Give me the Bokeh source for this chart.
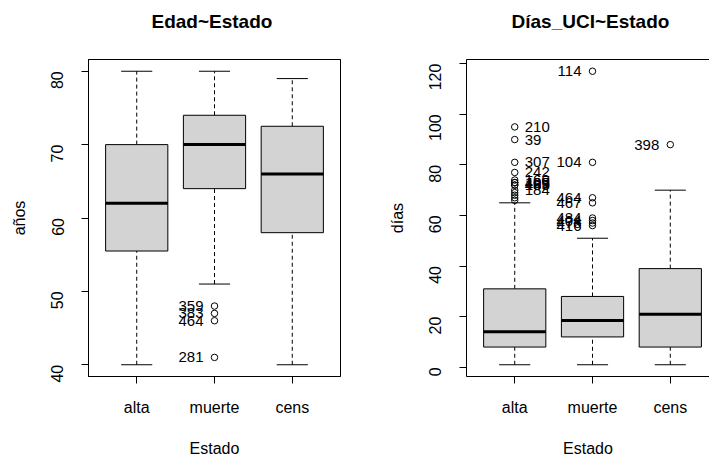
import math
from bokeh.plotting import figure
from bokeh.models import Range1d, FixedTicker, ColumnDataSource, Title, LinearAxis
from bokeh.layouts import row
from bokeh.embed import file_html
from bokeh.resources import INLINE
from bokeh.core.properties import value

categories = ["alta", "muerte", "cens"]
positions = [1, 2, 3]

# Edad ~ Estado
edad_low = [40, 51, 40]
edad_q1 = [55.5, 64, 58]
edad_med = [62, 70, 66]
edad_q3 = [70, 74, 72.5]
edad_high = [80, 80, 79]
edad_out_group = [2, 2, 2, 2]
edad_out_value = [48, 47, 46, 41]
edad_out_label = ["359", "383", "464", "281"]
edad_ticks = [40, 50, 60, 70, 80]

# Días_UCI ~ Estado
dias_low = [1, 1, 1]
dias_q1 = [8, 12, 8]
dias_med = [14, 18.5, 21]
dias_q3 = [31, 28, 39]
dias_high = [65, 51, 70]
dias_out_group = [1] * 14 + [2] * 8 + [3]
dias_out_value = [95, 90, 81, 77, 74, 73, 73, 72, 72, 70, 69, 68, 67, 66,
                  117, 81, 67, 65, 59, 58, 57, 56,
                  88]
dias_out_label = ["210", "39", "307", "242", "160", "165", "409", "469", "185", "184", "", "", "", "",
                  "114", "104", "464", "467", "484", "404", "478", "416",
                  "398"]
dias_ticks = [0, 20, 40, 60, 80, 100, 120]

FONT = "Liberation Sans"
HEIGHT = 459


def make_fig(title, ylabel, low, q1, med, q3, high, out_g, out_v, out_l, side,
             yticks, y_start, y_end, width, x_end, mb_left, mb_right, full_outline, title_offset):
    p = figure(width=width, height=HEIGHT, x_range=Range1d(0.38, x_end),
               y_range=Range1d(y_start, y_end), output_backend="svg",
               toolbar_location=None, min_border_left=mb_left, min_border_right=mb_right,
               min_border_top=59, min_border_bottom=81)
    p.grid.visible = False
    p.background_fill_color = "white"
    p.border_fill_color = "white"
    if full_outline:
        p.outline_line_color = "black"
        p.outline_line_width = 1
    else:
        p.outline_line_color = None

    xa = p.below[0]
    ya = p.left[0]

    # top frame edge, also the spacer between the frame and the title
    top_axis = LinearAxis(ticker=FixedTicker(ticks=positions), major_tick_out=22, major_tick_in=0,
                          axis_line_color="black", major_tick_line_color=None,
                          minor_tick_line_color=None, major_label_text_font_size="0px",
                          major_label_text_color=None)
    p.add_layout(top_axis, "above")
    p.add_layout(Title(text=title, text_font=FONT, text_font_size="19px",
                       text_font_style="bold", align="left", offset=title_offset,
                       standoff=12, text_color="black"), "above")

    src = ColumnDataSource(dict(x=positions, low=low, q1=q1, med=med, q3=q3, high=high,
                                x0=[v - 0.4 for v in positions], x1=[v + 0.4 for v in positions],
                                c0=[v - 0.2 for v in positions], c1=[v + 0.2 for v in positions]))
    # whiskers
    p.segment(x0="x", x1="x", y0="q3", y1="high", source=src, line_color="black",
              line_width=1, line_dash="4 3")
    p.segment(x0="x", x1="x", y0="low", y1="q1", source=src, line_color="black",
              line_width=1, line_dash="4 3")
    # staples
    p.segment(x0="c0", x1="c1", y0="high", y1="high", source=src, line_color="black", line_width=1)
    p.segment(x0="c0", x1="c1", y0="low", y1="low", source=src, line_color="black", line_width=1)
    # boxes
    p.vbar(x="x", bottom="q1", top="q3", width=0.8, source=src, fill_color="#D3D3D3",
           line_color="black", line_width=1)
    # medians
    p.segment(x0="x0", x1="x1", y0="med", y1="med", source=src, line_color="black", line_width=3)

    # outliers
    osrc = ColumnDataSource(dict(x=out_g, y=out_v, t=out_l))
    p.scatter(x="x", y="y", source=osrc, marker="circle", size=6.5, fill_color=None,
              line_color="black", line_width=1)
    for g in positions:
        idx = [i for i, gg in enumerate(out_g) if gg == g and out_l[i]]
        if not idx:
            continue
        s = ColumnDataSource(dict(x=[out_g[i] for i in idx], y=[out_v[i] for i in idx],
                                  t=[out_l[i] for i in idx]))
        right = side.get(g, "left") == "right"
        p.text(x="x", y="y", text="t", source=s, text_font=value(FONT), text_font_size="15px",
               text_align="left" if right else "right", text_baseline="middle",
               x_offset=10 if right else -11, text_color="black")

    # axes
    xa.ticker = FixedTicker(ticks=positions)
    xa.major_label_overrides = {pos: lab for pos, lab in zip(positions, categories)}
    ya.ticker = FixedTicker(ticks=yticks)
    for ax in (xa, ya):
        ax.axis_line_color = "black"
        ax.major_tick_line_color = "black"
        ax.major_tick_out = 7
        ax.major_tick_in = 0
        ax.minor_tick_line_color = None
        ax.major_label_text_font = FONT
        ax.major_label_text_font_size = "16px"
        ax.major_label_text_color = "black"
        ax.axis_label_text_font = FONT
        ax.axis_label_text_font_size = "16px"
        ax.axis_label_text_font_style = "normal"
        ax.axis_label_text_color = "black"
    xa.axis_label = "Estado"
    xa.major_label_standoff = 15
    xa.axis_label_standoff = 21
    ya.axis_label = ylabel
    ya.major_label_orientation = math.pi / 2
    ya.major_label_standoff = 24
    ya.axis_label_standoff = 15
    return p


p1 = make_fig("Edad~Estado", "años", edad_low, edad_q1, edad_med, edad_q3, edad_high,
              edad_out_group, edad_out_value, edad_out_label, {2: "left"},
              edad_ticks, 38.4, 81.6, 354, 3.62, 88, 14, True, 63)
p2 = make_fig("Días_UCI~Estado", "días", dias_low, dias_q1, dias_med, dias_q3, dias_high,
              dias_out_group, dias_out_value, dias_out_label, {1: "right", 2: "left", 3: "left"},
              dias_ticks, -3.64, 121.64, 355, 3.504, 112, 0, False, 45)

layout = row(p1, p2, spacing=0)
open("out.html", "w").write(file_html(layout, INLINE))
